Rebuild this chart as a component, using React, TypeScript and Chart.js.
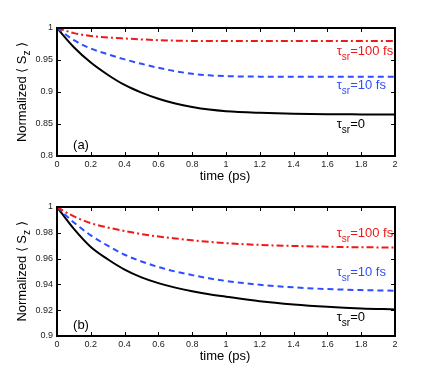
import { useEffect, useRef } from 'react';
import { Chart, registerables } from 'chart.js';

Chart.register(...registerables);

const timePs = [0, 0.1, 0.2, 0.3, 0.4, 0.5, 0.6, 0.7, 0.8, 0.9, 1.0, 1.2, 1.4, 1.6, 1.8, 2.0];

// Panel (a)
const aTau0 = [1, 0.970, 0.946, 0.927, 0.911, 0.899, 0.8895, 0.882, 0.8765, 0.8725, 0.870, 0.8675, 0.866, 0.8653, 0.865, 0.8648];
const aTau10 = [1, 0.981, 0.968, 0.959, 0.951, 0.944, 0.9378, 0.9325, 0.9285, 0.926, 0.9248, 0.924, 0.9237, 0.9237, 0.9237, 0.9237];
const aTau100 = [1, 0.992, 0.9875, 0.9852, 0.9836, 0.9822, 0.981, 0.9802, 0.9798, 0.9797, 0.9796, 0.9796, 0.9796, 0.9796, 0.9796, 0.9796];

// Panel (b)
const bTau0 = [1, 0.983, 0.969, 0.9595, 0.9515, 0.9455, 0.941, 0.9375, 0.9347, 0.9324, 0.9305, 0.927, 0.9245, 0.9227, 0.9214, 0.9206];
const bTau10 = [1, 0.988, 0.978, 0.970, 0.963, 0.9578, 0.9535, 0.950, 0.9472, 0.9447, 0.9427, 0.9397, 0.9377, 0.9364, 0.9356, 0.9351];
const bTau100 = [1, 0.9927, 0.9875, 0.9841, 0.9814, 0.979, 0.9771, 0.9756, 0.9742, 0.973, 0.972, 0.9706, 0.9698, 0.9692, 0.9688, 0.9686];

const xTickValues = [0, 0.2, 0.4, 0.6, 0.8, 1, 1.2, 1.4, 1.6, 1.8, 2];
const aYTicks = [0.8, 0.85, 0.9, 0.95, 1];
const bYTicks = [0.9, 0.92, 0.94, 0.96, 0.98, 1];

const seriesNames = ['τsr=100 fs', 'τsr=10 fs', 'τsr=0'];
const aLabelPos = [[1.655, 0.9585], [1.655, 0.904], [1.655, 0.8445]];
const bLabelPos = [[1.655, 0.9767], [1.655, 0.9465], [1.655, 0.9115]];

const RED = '#f01818';
const BLUE = '#2f4dff';
const BLACK = '#000000';
const FONT = '"Liberation Sans", Arial, Helvetica, sans-serif';

function fmt(v: number) {
  return String(Number(v.toFixed(3)));
}

const framePlugin = {
  id: 'framePlugin',
  afterDatasetsDraw(chart: any, _args: any, opts: any) {
    const ctx = chart.ctx as CanvasRenderingContext2D;
    const { left, right, top, bottom } = chart.chartArea;
    const xs = chart.scales.x;
    const ys = chart.scales.y;
    ctx.save();
    // tick marks inward on all sides
    ctx.strokeStyle = '#000';
    ctx.lineWidth = 1;
    const tl = 4;
    ctx.beginPath();
    for (const v of opts.xTicks) {
      const px = Math.round(xs.getPixelForValue(v)) + 0.5;
      ctx.moveTo(px, bottom);
      ctx.lineTo(px, bottom - tl);
      ctx.moveTo(px, top);
      ctx.lineTo(px, top + tl);
    }
    for (const v of opts.yTicks) {
      const py = Math.round(ys.getPixelForValue(v)) + 0.5;
      ctx.moveTo(left, py);
      ctx.lineTo(left + tl, py);
      ctx.moveTo(right, py);
      ctx.lineTo(right - tl, py);
    }
    ctx.stroke();
    // frame
    ctx.lineWidth = 2;
    ctx.strokeRect(left, top, right - left, bottom - top);

    // series labels
    const main = '13px ' + FONT;
    const sub = '10px ' + FONT;
    opts.labels.forEach((lab: any) => {
      let x = xs.getPixelForValue(lab.x);
      const y = ys.getPixelForValue(lab.y);
      ctx.fillStyle = lab.color;
      ctx.textBaseline = 'alphabetic';
      ctx.textAlign = 'left';
      const txt: string = lab.text;
      const tau = txt[0];
      const subTxt = txt.slice(1, 3);
      const rest = txt.slice(3);
      ctx.font = main;
      ctx.fillText(tau, x, y);
      x += ctx.measureText(tau).width;
      ctx.font = sub;
      ctx.fillText(subTxt, x, y + 5);
      x += ctx.measureText(subTxt).width;
      ctx.font = main;
      ctx.fillText(rest, x, y);
    });
    // panel label
    ctx.fillStyle = '#000';
    ctx.font = '13px ' + FONT;
    ctx.fillText(opts.panel, xs.getPixelForValue(opts.panelPos[0]), ys.getPixelForValue(opts.panelPos[1]));

    // y title
    const cy = (top + bottom) / 2;
    ctx.translate(22, cy);
    ctx.rotate(-Math.PI / 2);
    const p1 = 'Normalized ⟨ S';
    const p2 = 'z';
    const p3 = ' ⟩';
    ctx.font = '13px ' + FONT;
    const w1 = ctx.measureText(p1).width;
    const w3 = ctx.measureText(p3).width;
    ctx.font = '10px ' + FONT;
    const w2 = ctx.measureText(p2).width;
    let tx = -(w1 + w2 + w3) / 2;
    ctx.textBaseline = 'middle';
    ctx.font = '13px ' + FONT;
    ctx.fillText(p1, tx, 0);
    tx += w1;
    ctx.font = '10px ' + FONT;
    ctx.fillText(p2, tx, 5);
    tx += w2;
    ctx.font = '13px ' + FONT;
    ctx.fillText(p3, tx, 0);
    ctx.restore();

    // x title
    ctx.save();
    ctx.fillStyle = '#000';
    ctx.font = '13px ' + FONT;
    ctx.textAlign = 'center';
    ctx.textBaseline = 'middle';
    ctx.fillText('time (ps)', (left + right) / 2 - 1, bottom + opts.xTitleOffset);
    ctx.restore();
  },
};

function makeConfig(
  d100: number[], d10: number[], d0: number[],
  yTicks: number[], labelPos: number[][], panel: string, panelPos: number[],
  xScaleHeight: number, xTitleOffset: number
): any {
  const toPts = (arr: number[]) => arr.map((v, i) => ({ x: timePs[i], y: v }));
  const colors = [RED, BLUE, BLACK];
  return {
    type: 'line',
    data: {
      datasets: [
        { label: seriesNames[0], data: toPts(d100), borderColor: RED, borderWidth: 2, borderDash: [7, 3, 2, 3], pointRadius: 0, cubicInterpolationMode: 'monotone', fill: false },
        { label: seriesNames[1], data: toPts(d10), borderColor: BLUE, borderWidth: 2, borderDash: [6, 4], pointRadius: 0, cubicInterpolationMode: 'monotone', fill: false },
        { label: seriesNames[2], data: toPts(d0), borderColor: BLACK, borderWidth: 2, pointRadius: 0, cubicInterpolationMode: 'monotone', fill: false },
      ],
    },
    options: {
      responsive: false,
      animation: false,
      layout: { padding: { left: 0, right: 41, top: 28, bottom: 0 } },
      plugins: {
        legend: { display: false },
        tooltip: { enabled: false },
        framePlugin: {
          xTicks: xTickValues,
          yTicks,
          labels: labelPos.map((p, i) => ({ text: seriesNames[i], x: p[0], y: p[1], color: colors[i] })),
          panel,
          panelPos,
          xTitleOffset,
        },
      },
      scales: {
        x: {
          type: 'linear',
          min: 0,
          max: 2,
          grid: { display: false, drawTicks: false },
          border: { display: false },
          afterBuildTicks: (s: any) => { s.ticks = xTickValues.map((v) => ({ value: v })); },
          afterFit: (s: any) => { s.height = xScaleHeight; },
          ticks: { font: { size: 9, family: FONT }, color: '#222', padding: 3, maxRotation: 0, autoSkip: false, callback: (v: any) => fmt(Number(v)) },
        },
        y: {
          type: 'linear',
          min: yTicks[0],
          max: yTicks[yTicks.length - 1],
          grid: { display: false, drawTicks: false },
          border: { display: false },
          afterBuildTicks: (s: any) => { s.ticks = yTicks.map((v) => ({ value: v })); },
          afterFit: (s: any) => { s.width = 57; },
          ticks: { font: { size: 9, family: FONT }, color: '#222', padding: 4, autoSkip: false, callback: (v: any) => fmt(Number(v)) },
        },
      },
    },
    plugins: [framePlugin],
  };
}

export default function App() {
  const topRef = useRef<HTMLCanvasElement>(null);
  const botRef = useRef<HTMLCanvasElement>(null);

  useEffect(() => {
    const c1 = new Chart(topRef.current as HTMLCanvasElement,
      makeConfig(aTau100, aTau10, aTau0, aYTicks, aLabelPos, '(a)', [0.095, 0.811], 33, 20));
    const c2 = new Chart(botRef.current as HTMLCanvasElement,
      makeConfig(bTau100, bTau10, bTau0, bYTicks, bLabelPos, '(b)', [0.095, 0.9052], 42, 20));
    return () => { c1.destroy(); c2.destroy(); };
  }, []);

  return (
    <div style={{ position: 'absolute', left: 0, top: 0, width: 436, height: 378, background: '#fff' }}>
      <canvas ref={topRef} width={436} height={189} style={{ position: 'absolute', left: 0, top: 0, width: 436, height: 189 }} />
      <canvas ref={botRef} width={436} height={199} style={{ position: 'absolute', left: 0, top: 179, width: 436, height: 199 }} />
    </div>
  );
}
